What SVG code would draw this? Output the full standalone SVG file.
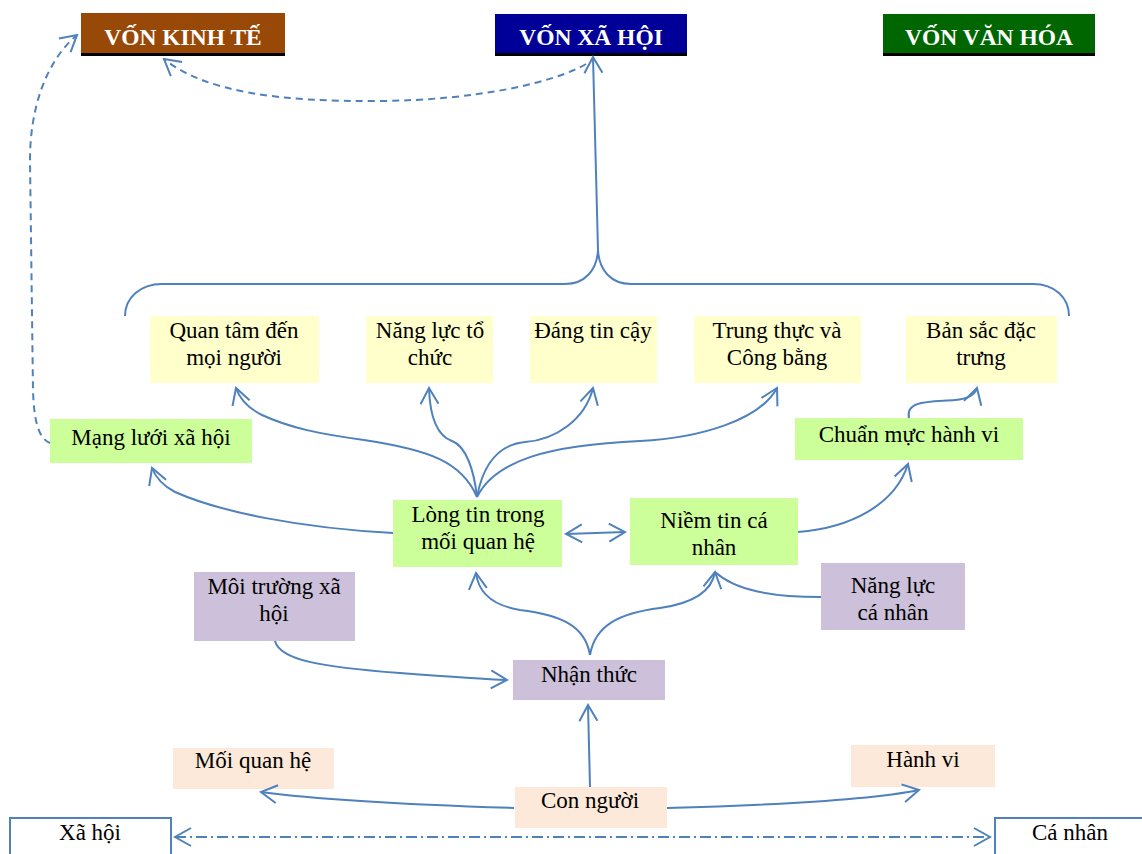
<svg xmlns="http://www.w3.org/2000/svg" width="1142" height="854" viewBox="0 0 1142 854">
<style>
text{font-family:"Liberation Serif","Times New Roman",serif;font-size:23px;fill:#000;text-anchor:middle}
.cap{font-weight:bold;fill:#fff;font-size:23.5px}
.y{fill:#FFFFCC}.g{fill:#CCFF99}.p{fill:#CCC0DA}.o{fill:#FDE9D9}
.c{fill:none;stroke:#4F81BD;stroke-width:2}
.d{stroke-dasharray:7,5}
.dd{stroke-dasharray:11,4,2,4}
</style>
<defs>
<marker id="a" viewBox="-19 -11 21 22" refX="0" refY="0" markerWidth="21" markerHeight="22" markerUnits="userSpaceOnUse" orient="auto-start-reverse">
<path d="M-16,-9 L0,0 L-16,9" fill="none" stroke="#4F81BD" stroke-width="2"/>
</marker>
</defs>
<rect width="1142" height="854" fill="#fff"/>

<g id="von-kinh-te"><rect x="81" y="13" width="204" height="43" fill="#000"/><rect x="81" y="13" width="204" height="40" fill="#984807"/><text class="cap" x="183" y="45">VỐN KINH TẾ</text></g>
<g id="von-xa-hoi"><rect x="495" y="14" width="192" height="42" fill="#000"/><rect x="495" y="14" width="192" height="39" fill="#000099"/><text class="cap" x="591" y="45">VỐN XÃ HỘI</text></g>
<g id="von-van-hoa"><rect x="883" y="14" width="212" height="42" fill="#000"/><rect x="883" y="14" width="212" height="39" fill="#006600"/><text class="cap" x="989" y="45">VỐN VĂN HÓA</text></g>

<g id="quan-tam"><rect class="y" x="150" y="316" width="169" height="67"/><text x="234" y="338">Quan tâm đến</text><text x="234" y="365">mọi người</text></g>
<g id="nang-luc-to-chuc"><rect class="y" x="366" y="316" width="127" height="67"/><text x="430" y="338">Năng lực tổ</text><text x="430" y="365">chức</text></g>
<g id="dang-tin-cay"><rect class="y" x="530" y="316" width="127" height="67"/><text x="593" y="338">Đáng tin cậy</text></g>
<g id="trung-thuc"><rect class="y" x="694" y="316" width="167" height="67"/><text x="777" y="338">Trung thực và</text><text x="777" y="365">Công bằng</text></g>
<g id="ban-sac"><rect class="y" x="906" y="316" width="151" height="67"/><text x="981" y="338">Bản sắc đặc</text><text x="981" y="365">trưng</text></g>

<g id="mang-luoi"><rect class="g" x="50" y="419" width="202" height="44"/><text x="151" y="445">Mạng lưới xã hội</text></g>
<g id="chuan-muc"><rect class="g" x="795" y="418" width="228" height="42"/><text x="909" y="442">Chuẩn mực hành vi</text></g>
<g id="long-tin"><rect class="g" x="393" y="500" width="169" height="67"/><text x="478" y="522">Lòng tin trong</text><text x="478" y="549">mối quan hệ</text></g>
<g id="niem-tin"><rect class="g" x="630" y="498" width="168" height="67"/><text x="714" y="528">Niềm tin cá</text><text x="714" y="555">nhân</text></g>

<g id="moi-truong"><rect class="p" x="194" y="572" width="161" height="69"/><text x="274" y="594">Môi trường xã</text><text x="274" y="621">hội</text></g>
<g id="nang-luc-ca-nhan"><rect class="p" x="821" y="563" width="144" height="67"/><text x="893" y="593">Năng lực</text><text x="893" y="620">cá nhân</text></g>
<g id="nhan-thuc"><rect class="p" x="513" y="660" width="152" height="40"/><text x="589" y="682">Nhận thức</text></g>

<g id="moi-quan-he"><rect class="o" x="173" y="748" width="161" height="41"/><text x="253" y="768">Mối quan hệ</text></g>
<g id="hanh-vi"><rect class="o" x="851" y="745" width="144" height="42"/><text x="923" y="767">Hành vi</text></g>
<g id="con-nguoi"><rect class="o" x="515" y="787" width="152" height="41"/><text x="590" y="808">Con người</text></g>

<g id="xa-hoi"><rect x="10" y="818" width="161" height="50" fill="#fff" stroke="#4F81BD" stroke-width="2"/><text x="90" y="840">Xã hội</text></g>
<g id="ca-nhan"><rect x="995" y="818" width="160" height="50" fill="#fff" stroke="#4F81BD" stroke-width="2"/><text x="1070" y="840">Cá nhân</text></g>

<g id="connectors">
<path class="c" d="M125,316 C125,298 140,284 162,284 L565,284 C585,284 597,270 598,250 C599,270 611,284 631,284 L1033,284 C1055,284 1069,298 1069,316"/>
<path class="c" d="M598,250 L593,57" marker-end="url(#a)"/>
<path class="c d" d="M586,64 C555,82 480,100 380,101 C280,102 205,92 164,59" marker-end="url(#a)"/>
<path class="c d" d="M50,443 C38,438 34,420 33,390 L30,160 C30,110 45,62 77,35" marker-end="url(#a)"/>
<path class="c" d="M477,497 C462,462 430,450 364,440 C320,434 290,428 262,415 C248,408 240,400 236,388" marker-end="url(#a)"/>
<path class="c" d="M477,497 C474,470 466,446 452,441 C438,436 430,420 429,388" marker-end="url(#a)"/>
<path class="c" d="M477,497 C482,470 495,445 525,442 C555,440 585,420 593,388" marker-end="url(#a)"/>
<path class="c" d="M477,497 C495,460 550,445 640,441 C700,438 760,420 777,388" marker-end="url(#a)"/>
<path class="c" d="M393,533 C300,528 220,512 175,492 C160,484 155,476 152,468" marker-end="url(#a)"/>
<path class="c" d="M566,534 L625,532" marker-start="url(#a)" marker-end="url(#a)"/>
<path class="c" d="M798,532 C850,528 895,505 908,464" marker-end="url(#a)"/>
<path class="c" d="M909,418 C905,400 930,402 955,400 C968,399 975,395 977,388" marker-end="url(#a)"/>
<path class="c" d="M590,655 C585,625 560,615 520,610 C490,605 478,590 476,573" marker-end="url(#a)"/>
<path class="c" d="M590,655 C595,625 620,613 660,608 C695,603 712,590 715,572" marker-end="url(#a)"/>
<path class="c" d="M821,597 C770,597 735,590 715,572"/>
<path class="c" d="M275,641 C280,660 320,667 400,673 C440,676 480,679 507,680" marker-end="url(#a)"/>
<path class="c" d="M590,787 L588,705" marker-end="url(#a)"/>
<path class="c" d="M514,808 C420,805 320,800 261,792" marker-end="url(#a)"/>
<path class="c" d="M667,808 C780,805 870,800 919,790" marker-end="url(#a)"/>
<path class="c dd" d="M175,837 L990,837" marker-start="url(#a)" marker-end="url(#a)"/>
</g>
</svg>
